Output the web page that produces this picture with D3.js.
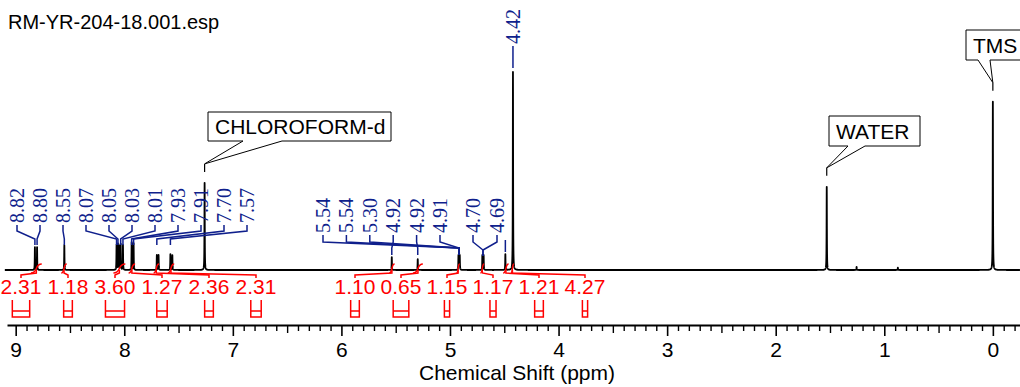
<!DOCTYPE html>
<html>
<head>
<meta charset="utf-8">
<script src="https://cdn.jsdelivr.net/npm/d3@7"></script>
<style>
  body { margin: 0; background: #fff; }
  svg { display: block; font-family: "Liberation Sans", Arial, sans-serif; }
</style>
</head>
<body>
<div id="chart"></div>
<script>
var title = "RM-YR-204-18.001.esp";

// peaks (ppm, height in % of the 4.42 singlet)
var peakPpm = [8.823, 8.803, 8.552, 8.071, 8.058, 8.046, 8.033, 8.012, 7.932, 7.914,
               7.700, 7.684, 7.575, 7.557, 7.26, 5.536, 5.297, 4.922, 4.916, 4.910,
               4.702, 4.690, 4.49, 4.42, 1.53, 1.255, 0.875, 0.0];
var peakHeight = [11.5, 11.5, 12.5, 12.5, 13, 12, 13, 12.5, 14, 13.5,
                  7.5, 7.5, 8, 7.5, 44, 6.5, 5.5, 7, 8.5, 7,
                  7.5, 7.5, 8, 100, 42, 1.6, 1.2, 85];

// chemical shift labels and the peak each one points at
var shiftLabels = ["8.82", "8.80", "8.55", "8.07", "8.05", "8.03", "8.01", "7.93", "7.91", "7.70", "7.57",
                   "5.54", "5.54", "5.30", "4.92", "4.92", "4.91",
                   "4.70", "4.69", "", "4.42"];
var shiftTargets = [8.823, 8.803, 8.552, 8.071, 8.058, 8.033, 8.012, 7.932, 7.914, 7.700, 7.575,
                    4.916, 4.916, 4.916, 5.536, 5.297, 4.916,
                    4.696, 4.696, 4.49, 4.42];
var shiftGroup = [0, 0, 0, 0, 0, 0, 0, 0, 0, 0, 0,
                  1, 1, 1, 1, 1, 1,
                  2, 2, 3, 4];

// integrals
var integralValues = ["2.31", "1.18", "3.60", "1.27", "2.36", "2.31",
                      "1.10", "0.65", "1.15", "1.17", "1.21", "4.27"];
var integralFrom = [8.86, 8.58, 8.10, 7.96, 7.73, 7.60, 5.56, 5.34, 4.94, 4.72, 4.51, 4.44];
var integralTo   = [8.76, 8.53, 7.99, 7.90, 7.68, 7.54, 5.51, 5.25, 4.91, 4.685, 4.46, 4.41];
var integralGroup = [0, 0, 0, 0, 0, 0, 1, 1, 1, 1, 1, 1];

// solvent / reference annotations
var annoNames = ["CHLOROFORM-d", "WATER", "TMS"];
var annoPpm = [7.26, 1.53, 0.0];

var majorTicks = [9, 8, 7, 6, 5, 4, 3, 2, 1, 0];

var width = 1020, height = 387;
var blue = "#0f1f8c", red = "#ff0000";

var svg = d3.select("#chart").append("svg")
    .attr("width", width)
    .attr("height", height);

var x = d3.scaleLinear().domain([9.08, -0.25]).range([7, 1020]);
var y = d3.scaleLinear().domain([0, 100]).range([270, 72]);

// lorentzian sum of the peak list
var hw = 0.0015;
function spec(p) {
  var s = 0;
  for (var i = 0; i < peakPpm.length; i++) {
    var d = p - peakPpm[i];
    s += peakHeight[i] * hw * hw / (hw * hw + d * d);
  }
  return s;
}
var grid = d3.range(9.1, -0.25, -0.0005).concat(peakPpm).sort((a, b) => b - a);
var specData = grid.map(p => [p, spec(p)]);

svg.append("text")
    .attr("x", 8).attr("y", 29)
    .attr("font-size", 20)
    .text(title);

svg.append("path")
    .datum(specData)
    .attr("fill", "none")
    .attr("stroke", "#000")
    .attr("stroke-width", 1.8)
    .attr("stroke-linejoin", "round")
    .attr("d", d3.line().x(d => x(d[0])).y(d => y(d[1])));

// shift labels
var groups = [
  { start: 17, step: 23, yb: 223, y1: 231, y2: 239, y3: 245 },
  { start: 323, step: 23.4, yb: 233, y1: 242, y2: 248, y3: 255 },
  { start: 473, step: 24, yb: 233, y1: 242, y2: 250, y3: 256 },
  { start: x(4.49), step: 0, yb: 240, y1: 240, y2: 240, y3: 252 },
  { start: x(4.42), step: 0, yb: 44, y1: 48, y2: 48, y3: 68 }
];
var counter = [0, 0, 0, 0, 0];
var shiftData = shiftLabels.map(function (t, i) {
  var g = groups[shiftGroup[i]];
  var lx = g.start + g.step * counter[shiftGroup[i]]++;
  return { text: t, lx: lx, tx: x(shiftTargets[i]), g: g };
});

var sl = svg.append("g");
sl.selectAll("path")
  .data(shiftData)
  .enter()
  .append("path")
  .attr("fill", "none")
  .attr("stroke", blue)
  .attr("stroke-width", 1.5)
  .attr("d", d => `M${d.lx},${d.g.yb + (d.text ? 2 : 0)}V${d.g.y1}L${d.tx},${d.g.y2}V${d.g.y3}`);
sl.selectAll("text")
  .data(shiftData.filter(d => d.text))
  .enter()
  .append("text")
  .attr("transform", d => `translate(${d.lx},${d.g.yb}) rotate(-90)`)
  .attr("dominant-baseline", "central")
  .attr("font-family", "'Liberation Serif', 'Times New Roman', serif")
  .attr("font-size", 20)
  .attr("fill", blue)
  .text(d => d.text);

// integrals
var intLayout = [{ start: 21, step: 47 }, { start: 355, step: 46 }];
var icount = [0, 0];
var intData = integralValues.map(function (v, i) {
  var L = intLayout[integralGroup[i]];
  var lx = L.start + L.step * icount[integralGroup[i]]++;
  return { v: v, lx: lx, x0: x(integralFrom[i]), x1: x(integralTo[i]) };
});

var ig = svg.append("g")
    .attr("fill", "none")
    .attr("stroke", red)
    .attr("stroke-width", 1.5);
ig.selectAll(".curve")
  .data(intData)
  .enter()
  .append("path")
  .attr("d", function (d) {
    var w = d.x1 - d.x0;
    return `M${d.x0},273C${d.x0 + w * 0.7},273 ${d.x0 + w * 0.3},264 ${d.x1},264`;
  });
ig.selectAll(".conn")
  .data(intData)
  .enter()
  .append("path")
  .attr("d", d => `M${(d.x0 + d.x1) / 2},270V273L${d.lx},275V278`);
ig.selectAll(".bracket")
  .data(intData)
  .enter()
  .append("path")
  .attr("d", function (d) {
    var w = Math.max(5, (d.x1 - d.x0) * 1.6);
    var a = d.lx - w / 2, b = d.lx + w / 2;
    return `M${a},300V317H${b}V300M${a},311H${b}`;
  });
svg.append("g").selectAll("text")
  .data(intData)
  .enter()
  .append("text")
  .attr("x", d => d.lx)
  .attr("y", 294)
  .attr("text-anchor", "middle")
  .attr("font-size", 21)
  .attr("fill", red)
  .text(d => d.v);

// annotation callouts
var boxes = [
  { x: 208, y: 112, w: 183, h: 29, b1: 35, b2: 74 },
  { x: 829, y: 116, w: 91, h: 30, b1: 19, b2: 36 },
  { x: 966, y: 30, w: 70, h: 30, b1: 12, b2: 24 }
];
annoNames.forEach(function (name, i) {
  var b = boxes[i];
  var tx = x(annoPpm[i]);
  var ty = y(spec(annoPpm[i])) - 19;
  var g = svg.append("g");
  g.append("path")
    .attr("fill", "#fff")
    .attr("stroke", "#000")
    .attr("stroke-width", 1)
    .attr("d", `M${b.x},${b.y}H${b.x + b.w}V${b.y + b.h}H${b.x + b.b2}L${tx},${ty}L${b.x + b.b1},${b.y + b.h}H${b.x}Z`);
  g.append("path")
    .attr("stroke", "#000")
    .attr("stroke-width", 1.2)
    .attr("d", `M${tx},${ty}V${ty + 8}`);
  g.append("text")
    .attr("x", b.x + 7)
    .attr("y", b.y + b.h / 2 + 7.5)
    .attr("font-size", 21)
    .text(name);
});

// axis
var axisY = 325;
var minor = d3.range(-2, 91).filter(i => i % 5 !== 0).map(i => i / 10);
var half = d3.range(0, 9).map(i => i + 0.5);

var ax = svg.append("g").attr("transform", `translate(0,${axisY})`);
ax.call(d3.axisBottom(x).tickValues(majorTicks).tickSize(11).tickSizeOuter(0)
    .tickPadding(6).tickFormat(d3.format("d")));
ax.attr("font-family", null).attr("font-size", 21);
ax.select(".domain").attr("stroke-width", 2);
ax.selectAll(".tick line").attr("stroke-width", 1.6);
ax.selectAll(".tick text").attr("fill", "#000");

var ax2 = svg.append("g").attr("transform", `translate(0,${axisY})`);
ax2.call(d3.axisBottom(x).tickValues(minor).tickSize(6).tickFormat(""));
ax2.select(".domain").remove();
ax2.selectAll(".tick line").attr("stroke-width", 1.4);

var ax3 = svg.append("g").attr("transform", `translate(0,${axisY})`);
ax3.call(d3.axisBottom(x).tickValues(half).tickSize(8).tickFormat(""));
ax3.select(".domain").remove();
ax3.selectAll(".tick line").attr("stroke-width", 1.4);

svg.append("text")
    .attr("x", 517)
    .attr("y", 380)
    .attr("text-anchor", "middle")
    .attr("font-size", 21)
    .text("Chemical Shift (ppm)");
</script>
</body>
</html>
